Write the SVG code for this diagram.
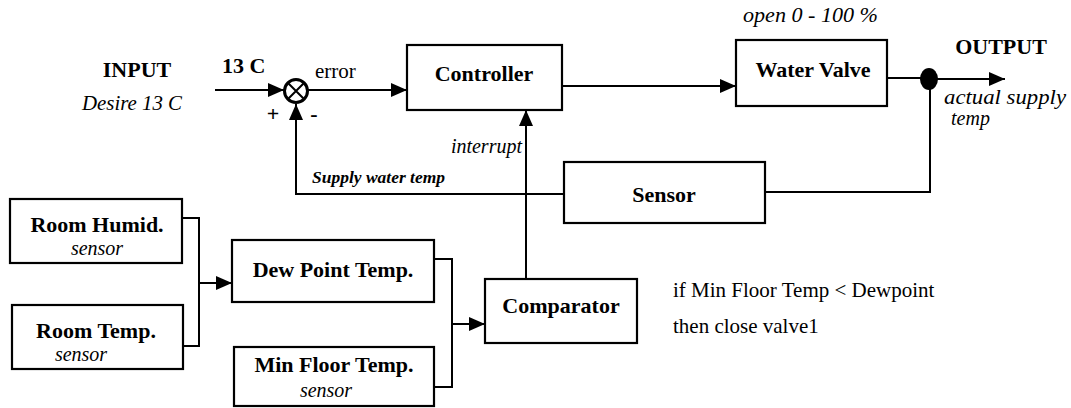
<svg xmlns="http://www.w3.org/2000/svg" width="1071" height="408" viewBox="0 0 1071 408" font-family="'Liberation Serif', 'DejaVu Serif', serif">
<defs>
<style>
text{font-family:"Liberation Serif","DejaVu Serif","Noto Serif",serif;fill:#000}
.b{font-weight:bold;font-size:22px}
.i{font-style:italic;font-size:20px}
.bi{font-style:italic;font-weight:bold;font-size:17px}
.r{font-size:21px}
.box{fill:#fff;stroke:#000;stroke-width:2.2}
.ln{fill:none;stroke:#000;stroke-width:2}
</style>
<marker id="ah" viewBox="0 0 16 14" refX="16" refY="7" markerWidth="16" markerHeight="14" markerUnits="userSpaceOnUse" orient="auto">
<path d="M0,0 L16,7 L0,14 Z" fill="#000"/>
</marker>
</defs>
<rect width="1071" height="408" fill="#fff"/>

<g id="connectors">
<path class="ln" d="M215,90 H284" marker-end="url(#ah)"/>
<path class="ln" d="M308,90 H407" marker-end="url(#ah)"/>
<path class="ln" d="M562,86 H736" marker-end="url(#ah)"/>
<path class="ln" d="M887,78 H929"/>
<path class="ln" d="M929,79 H1005" marker-end="url(#ah)"/>
<path class="ln" d="M930,79 V192 H765"/>
<path class="ln" d="M564,194 H296 V104" marker-end="url(#ah)"/>
<path class="ln" d="M526,279 V110" marker-end="url(#ah)"/>
<path class="ln" d="M182,218 H199 V346 H183"/>
<path class="ln" d="M199,283 H232" marker-end="url(#ah)"/>
<path class="ln" d="M434,259 H452 V387 H434"/>
<path class="ln" d="M452,324 H485" marker-end="url(#ah)"/>
</g>

<g id="input-label">
<text class="b" x="137" y="77" text-anchor="middle">INPUT</text>
<text class="i" x="82" y="110" textLength="100" lengthAdjust="spacingAndGlyphs">Desire 13 C</text>
<text class="b" x="222" y="73" font-size="20">13 C</text>
</g>

<g id="summing-junction">
<circle cx="296" cy="91" r="11.5" fill="#fff" stroke="#000" stroke-width="3"/>
<path d="M288,83 L304,99 M304,83 L288,99" stroke="#000" stroke-width="2"/>
<text class="b" x="273" y="121" text-anchor="middle" font-size="20">+</text>
<text class="b" x="314" y="121" text-anchor="middle" font-size="20">-</text>
<text class="r" x="315" y="78">error</text>
</g>

<g id="controller">
<rect class="box" x="407" y="45" width="155" height="65"/>
<text class="b" x="484" y="81" text-anchor="middle">Controller</text>
</g>

<g id="water-valve">
<rect class="box" x="736" y="40" width="151" height="66"/>
<text class="b" x="813" y="77" text-anchor="middle">Water Valve</text>
<text class="i" x="743" y="22" textLength="135" lengthAdjust="spacingAndGlyphs">open 0 - 100 %</text>
</g>

<g id="output">
<ellipse cx="929" cy="79" rx="9" ry="11" fill="#000"/>
<text class="b" x="1001" y="54" text-anchor="middle">OUTPUT</text>
<text class="i" x="944" y="104" textLength="122" lengthAdjust="spacingAndGlyphs">actual supply</text>
<text class="i" x="951" y="125">temp</text>
</g>

<g id="sensor">
<rect class="box" x="564" y="162" width="201" height="61"/>
<text class="b" x="664" y="202" text-anchor="middle">Sensor</text>
<text class="bi" x="312" y="183" textLength="133" lengthAdjust="spacingAndGlyphs">Supply water temp</text>
<text class="i" x="522" y="153" text-anchor="end" font-size="21">interrupt</text>
</g>

<g id="room-humid">
<rect class="box" x="10" y="199" width="172" height="64"/>
<text class="b" x="97" y="232" text-anchor="middle">Room Humid.</text>
<text class="i" x="97" y="255" text-anchor="middle">sensor</text>
</g>

<g id="room-temp">
<rect class="box" x="12" y="305" width="171" height="64"/>
<text class="b" x="96" y="338" text-anchor="middle">Room Temp.</text>
<text class="i" x="81" y="361" text-anchor="middle">sensor</text>
</g>

<g id="dew-point">
<rect class="box" x="232" y="240" width="202" height="62"/>
<text class="b" x="333" y="277" text-anchor="middle">Dew Point Temp.</text>
</g>

<g id="min-floor">
<rect class="box" x="234" y="347" width="200" height="59"/>
<text class="b" x="334" y="372" text-anchor="middle">Min Floor Temp.</text>
<text class="i" x="326" y="397" text-anchor="middle">sensor</text>
</g>

<g id="comparator">
<rect class="box" x="485" y="279" width="152" height="64"/>
<text class="b" x="561" y="313" text-anchor="middle">Comparator</text>
</g>

<g id="note">
<text class="r" x="673" y="297" font-size="22">if Min Floor Temp &lt; Dewpoint</text>
<text class="r" x="673" y="333" font-size="22">then close valve1</text>
</g>
</svg>
